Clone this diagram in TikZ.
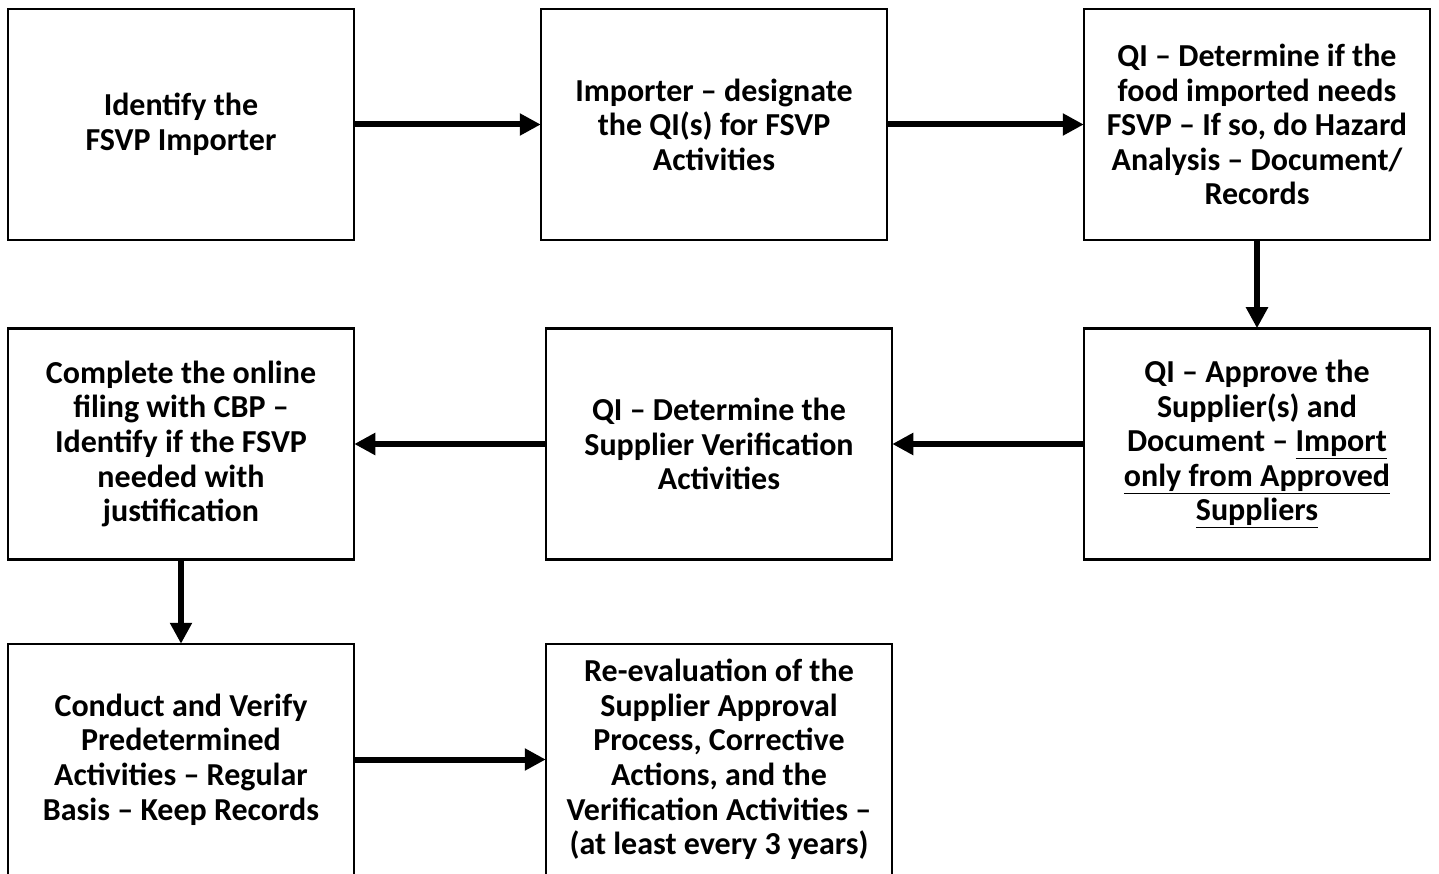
\documentclass[tikz,border=0pt]{standalone}
\usepackage{fontspec}
\setmainfont{Carlito}
\usetikzlibrary{arrows.meta}
\begin{document}
\begin{tikzpicture}[x=1pt,y=-1pt,
  box/.style={draw=black, line width=2.5pt, fill=white, minimum width=346pt, minimum height=231pt, inner sep=0pt, align=center, font=\fontsize{32}{34.6}\selectfont\bfseries},
  conn/.style={line width=6pt, -{Triangle[width=21pt,length=21pt]}, shorten >=-1pt}]
\useasboundingbox (0,0) rectangle (1439,874);
\clip (0,0) rectangle (1439,874);
\node[box] (A) at (181,124.5) {Identify the\\FSVP Importer};
\node[box] (B) at (714,124.5) {Importer -- designate\\the QI(s) for FSVP\\Activities};
\node[box] (C) at (1257,124.5) {QI -- Determine if the\\food imported needs\\FSVP -- If so, do Hazard\\Analysis -- Document/\\Records};
\node[box] (D) at (181,444) {Complete the online\\filing with CBP --\\Identify if the FSVP\\needed with\\justification};
\node[box] (E) at (719,444) {QI -- Determine the\\Supplier Verification\\Activities};
\node[box] (F) at (1257,444) {QI -- Approve the\\Supplier(s) and\\Document -- \underline{Import}\\\underline{only from Approved}\\\underline{Suppliers}};
\node[box] (G) at (181,759.5) {Conduct and Verify\\Predetermined\\Activities -- Regular\\Basis -- Keep Records};
\node[box] (H) at (719,759.5) {Re-evaluation of the\\Supplier Approval\\Process, Corrective\\Actions, and the\\Verification Activities --\\(at least every 3 years)};
\draw[conn] (A.east) -- (B.west);
\draw[conn] (B.east) -- (C.west);
\draw[conn] (C.south) -- (F.north);
\draw[conn] (F.west) -- (E.east);
\draw[conn] (E.west) -- (D.east);
\draw[conn] (D.south) -- (G.north);
\draw[conn] (G.east) -- (H.west);
\end{tikzpicture}
\end{document}
